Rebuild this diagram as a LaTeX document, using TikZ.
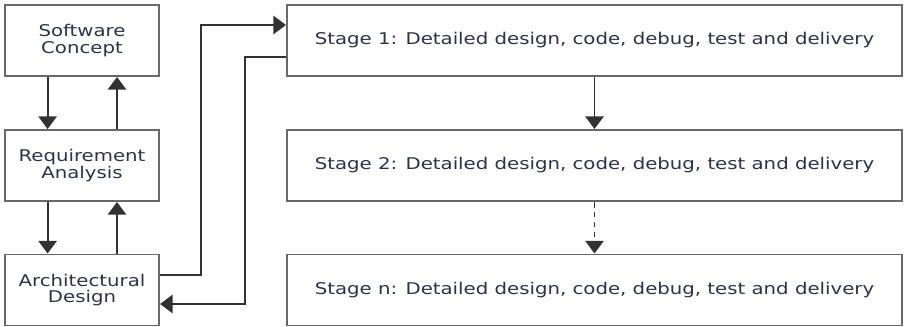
\documentclass[tikz,border=0pt]{standalone}
\usepackage{fontspec}
\setmainfont[FakeStretch=1.22]{DejaVu Sans}
\usetikzlibrary{arrows.meta}
\definecolor{txtcol}{RGB}{45,50,75}
\definecolor{boxcol}{RGB}{105,105,105}
\definecolor{linecol}{RGB}{50,50,50}
\tikzset{
  phase/.style={draw=boxcol, line width=1.4pt, minimum width=3.85cm, minimum height=1.775cm,
    align=center, text=txtcol, font=\fontsize{11.5}{11.5}\selectfont, inner sep=0pt},
  stagebox/.style={phase, minimum width=15.375cm},
  flow/.style={draw=linecol, line width=1.4pt, -{Triangle[width=13pt,length=9pt]}},
  link/.style={draw=linecol, line width=1.4pt}
}

\begin{document}
\begin{tikzpicture}
			%%%%% START %%%%%
			\useasboundingbox (0, 0) rectangle (22.6, -8.175);
			
			\node[phase] (sc) at (2.05, -1.0125) {Software\\Concept};
			\node[phase] (ra) at (2.05, -4.1375) {Requirement\\Analysis};
			\node[phase] (ad) at (2.05, -7.25) {Architectural\\Design};
			
			\node[stagebox] (s1) at (14.8625, -1.0125) {Stage 1: Detailed design, code, debug, test and delivery};
			\node[stagebox] (s2) at (14.8625, -4.1375) {Stage 2: Detailed design, code, debug, test and delivery};
			\node[stagebox] (sn) at (14.8625, -7.25) {Stage n: Detailed design, code, debug, test and delivery};
			
			\draw[flow] ([xshift=-0.86cm]sc.south) -- ([xshift=-0.86cm]ra.north);
			\draw[flow] ([xshift=0.875cm]ra.north) -- ([xshift=0.875cm]sc.south);
			\draw[flow] ([xshift=-0.86cm]ra.south) -- ([xshift=-0.86cm]ad.north);
			\draw[flow] ([xshift=0.875cm]ad.north) -- ([xshift=0.875cm]ra.south);
			
			\coordinate (bendA) at (5.025, -0.625);
			\coordinate (bendB) at (6.125, -1.425);
			\draw[flow] ([yshift=0.375cm]ad.east) -| (bendA) -- (bendA -| s1.west);
			\draw[flow] (bendB -| s1.west) -- (bendB) |- ([yshift=-0.35cm]ad.east);
			
			\draw[flow] (s1) -- (s2);
			\draw[flow, dash pattern=on 4pt off 3pt] (s2) -- (sn);
			%%%%% END %%%%%
		\end{tikzpicture}
\end{document}
